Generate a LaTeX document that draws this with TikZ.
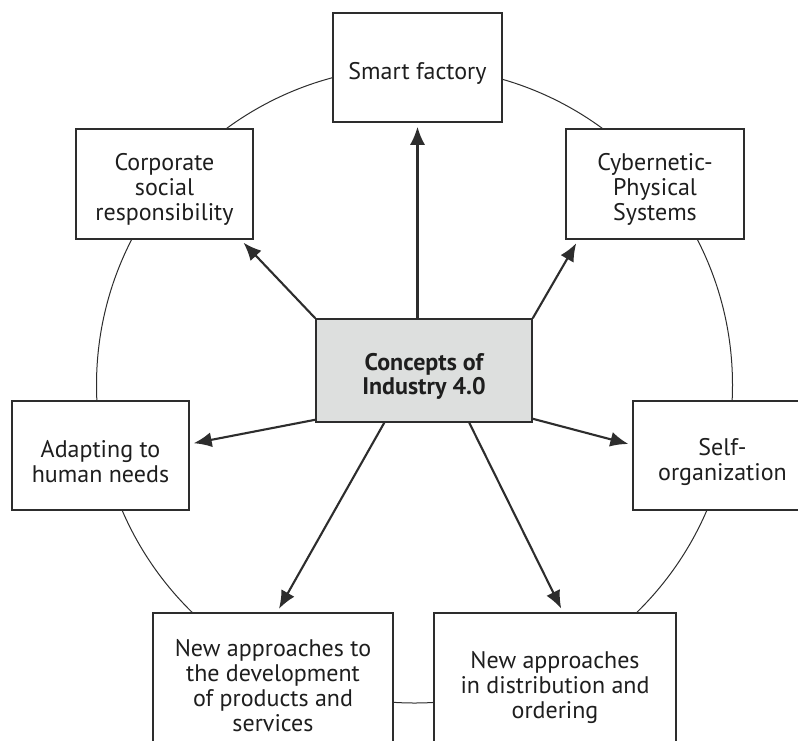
\documentclass[tikz,border=0pt]{standalone}
\usepackage{fontspec}
\setmainfont{PT Sans}
\usetikzlibrary{arrows.meta,calc}
\definecolor{boxline}{RGB}{45,45,45}
\definecolor{centerfill}{RGB}{221,223,222}
\definecolor{txt}{RGB}{30,30,30}
\begin{document}
\begin{tikzpicture}[x=1pt,y=-1pt,
  concept/.style={draw=boxline,line width=1.5pt,fill=white,rectangle,inner sep=0pt},
  hub/.style={concept,fill=centerfill},
  boxtext/.style={inner sep=0pt,align=center,text=txt,font=\fontsize{24}{25}\selectfont},
  hubtext/.style={boxtext,font=\fontsize{24}{24.5}\selectfont\bfseries},
  link/.style={line width=2.1pt,draw=boxline,shorten >=4pt,-{Latex[length=18pt,width=15pt]}},
  ring/.style={line width=1pt,draw=boxline}]
\useasboundingbox (0,0) rectangle (798,740);
\clip (0,0) rectangle (798,740);
\fill[white] (0,0) rectangle (798,740);
\coordinate (ringc) at (414.5,385);
\draw[ring] (ringc) circle[radius=318pt];
% boxes
\node[concept,minimum width=169pt,minimum height=109pt] (sf) at (417.5,67.5) {};
\node[concept,minimum width=178pt,minimum height=110pt] (cps) at (655,184) {};
\node[concept,minimum width=177pt,minimum height=110pt] (csr) at (164.5,184) {};
\node[hub,minimum width=216pt,minimum height=103pt] (c) at (424,370.5) {};
\node[concept,minimum width=177pt,minimum height=109pt] (ahn) at (100.5,455.5) {};
\node[concept,minimum width=179pt,minimum height=109pt] (so) at (722.5,455.5) {};
\node[concept,minimum width=240pt,minimum height=143pt] (np) at (273,684.5) {};
\node[concept,minimum width=242pt,minimum height=144pt] (nd) at (555,685) {};
% texts
\node[boxtext] (sft) at ($(sf)+(0,6)$) {Smart factory};
\node[boxtext] (cpst) at ($(cps)+(0,5)$) {Cybernetic-\\Physical\\Systems};
\node[boxtext] (csrt) at ($(csr)+(0,5)$) {Corporate\\social\\responsibility};
\node[hubtext] (ct) at ($(c)+(0,6)$) {Concepts of\\Industry 4.0};
\node[boxtext] (ahnt) at ($(ahn)+(0,6)$) {Adapting to\\human needs};
\node[boxtext] (sot) at ($(so)+(0,6)$) {Self-\\organization};
\node[boxtext] (npt) at ($(np)+(0,1)$) {New approaches to\\the development\\of products and\\services};
\node[boxtext] (ndt) at ($(nd)+(0,2)$) {New approaches\\in distribution and\\ordering};
% connectors
\draw[link] (sf.south |- c.north) -- (sf.south);
\draw[link] (c.north east) -- ($(cps.south west)+(13,0)$);
\draw[link] (c.north west) -- ($(csr.south east)+(-13,0)$);
\draw[link] ($(c.south west)+(0,-3)$) -- ($(ahn.east)+(0,-11.5)$);
\draw[link] ($(c.south east)+(0,-4)$) -- ($(so.west)+(0,-10.5)$);
\draw[link] ($(c.south west)+(69,0)$) -- ($(np.north)+(4,0)$);
\draw[link] ($(c.south west)+(154,0)$) -- ($(nd.north)+(8,0)$);
\end{tikzpicture}
\end{document}
